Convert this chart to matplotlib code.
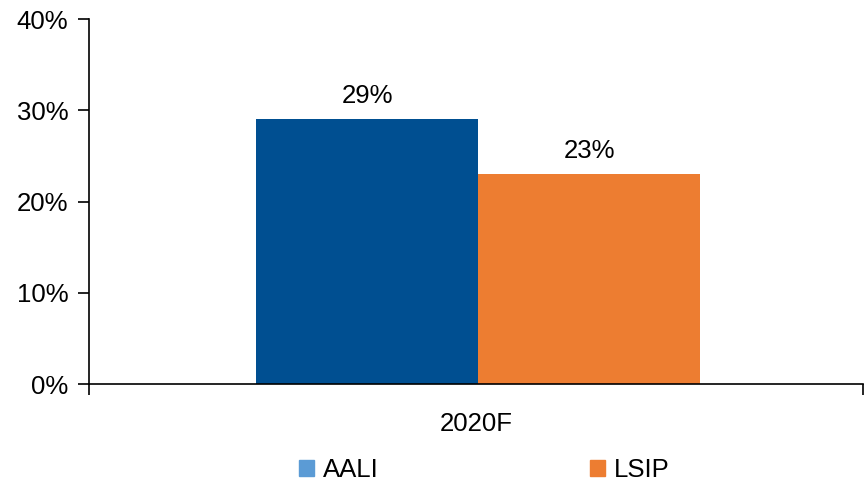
import matplotlib.pyplot as plt
from matplotlib.patches import Patch
from matplotlib.ticker import FuncFormatter

plt.rcParams['font.family'] = ['Liberation Sans', 'DejaVu Sans']

categories = ['2020F']
series_names = ['AALI', 'LSIP']
series_values = [[29], [23]]
bar_colors = ['#004F91', '#ED7D31']
legend_colors = ['#5B9BD5', '#ED7D31']

FS = 18.5

fig = plt.figure(figsize=(8.65, 4.86), dpi=100)
ax = fig.add_axes([89 / 865, 1 - 384 / 486, 774 / 865, 365 / 486])

width = 0.287
offsets = [-width / 2 + 0.003, width / 2 + 0.003]
for name, vals, color, off in zip(series_names, series_values, bar_colors, offsets):
    xs = [i + off for i in range(len(categories))]
    bars = ax.bar(xs, vals, width=width, color=color, zorder=2)
    for b, v in zip(bars, vals):
        ax.text(b.get_x() + b.get_width() / 2, v + 1.2, f'{v}%',
                ha='center', va='bottom', fontsize=FS)

ax.set_xlim(-0.5, len(categories) - 0.5)
ax.set_ylim(0, 40)
ax.set_yticks([0, 10, 20, 30, 40])
ax.yaxis.set_major_formatter(FuncFormatter(lambda v, p: f'{v:.0f}%'))
ax.set_xticks(range(len(categories)))
ax.set_xticklabels(categories)
ax.set_xticks([-0.5, 0.5], minor=True)
ax.tick_params(axis='x', which='major', length=0, pad=20, labelsize=FS)
ax.tick_params(axis='x', which='minor', length=8, direction='out', width=1.2)
ax.tick_params(axis='y', length=8, direction='out', width=1.2, labelsize=FS, pad=7)

for s in ['top', 'right']:
    ax.spines[s].set_visible(False)
for s in ['left', 'bottom']:
    ax.spines[s].set_linewidth(1.2)

handles = [Patch(color=c) for c in legend_colors]
fig.legend(handles, series_names, loc='lower center', bbox_to_anchor=(0.56, -0.04),
           ncol=2, frameon=False, fontsize=FS, handlelength=0.6, handleheight=0.6,
           handletextpad=0.35, columnspacing=8.2)

fig.savefig('out.png', dpi=100)
